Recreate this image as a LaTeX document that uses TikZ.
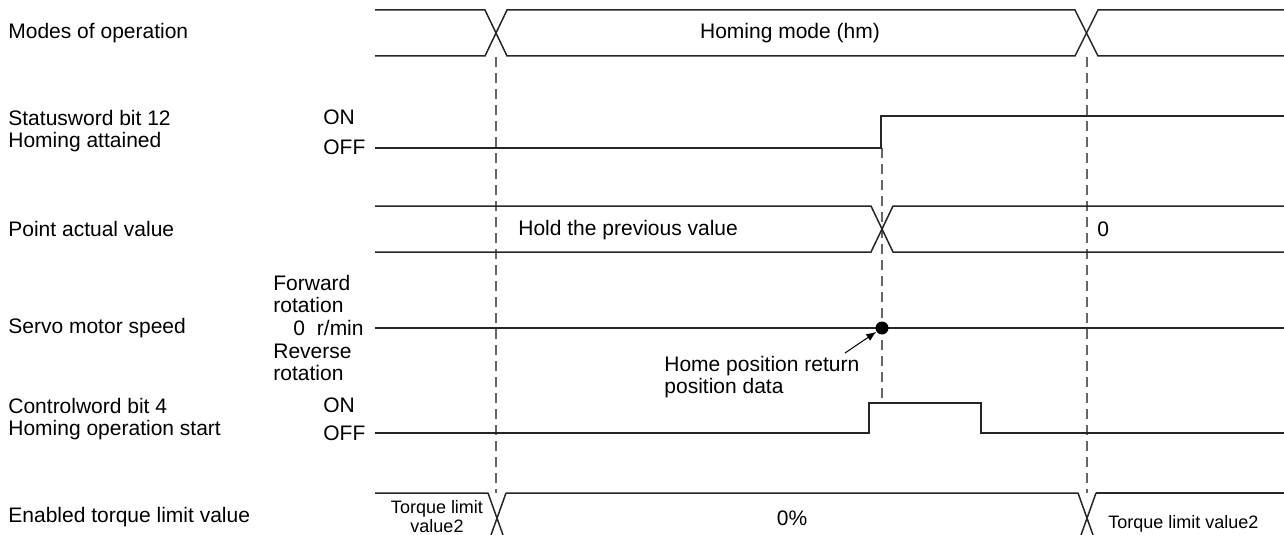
\documentclass[tikz,border=0pt]{standalone}
\usepackage{fontspec}
\setmainfont{Liberation Sans}
\usetikzlibrary{arrows.meta}
\tikzset{
  sig/.style={line width=0.75pt, draw=black!85},
  guide/.style={line width=0.6pt, draw=black!60, dash pattern=on 5pt off 3pt},
  lbl/.style={inner sep=0pt, anchor=west, align=left, font=\fontsize{10.5}{11}\selectfont},
  mid/.style={inner sep=0pt, anchor=center, align=center, font=\fontsize{10.5}{11}\selectfont},
  small/.style={inner sep=0pt, align=center, font=\fontsize{9}{9.5}\selectfont},
  pointer/.style={line width=0.5pt, -{Latex[length=5pt,width=4pt]}}
}
\begin{document}
\begin{tikzpicture}[x=0.5pt,y=-0.5pt]
\useasboundingbox (0,0) rectangle (1284,535);
\clip (0,0) rectangle (1284,535);
% guides
\draw[guide] (496,57)--(496,493);
\draw[guide] (1087,57)--(1087,493);
\draw[guide] (882,148)--(882,403);
% left labels
\node[lbl] (mo) at (8,33) {Modes of operation};
\node[lbl] (sw) at (8,131) {Statusword bit 12\\Homing attained};
\node[lbl] (pa) at (8,229) {Point actual value};
\node[lbl] (sm) at (8,328) {Servo motor speed};
\node[lbl] (cw) at (8,419) {Controlword bit 4\\Homing operation start};
\node[lbl] (tl) at (8,517) {Enabled torque limit value};
% level labels
\node[lbl] (swon) at (323,117) {ON};
\node[lbl] (swoff) at (323,147) {OFF};
\node[lbl] (fwd) at (273,294) {Forward\\rotation};
\node[lbl, anchor=east] (zero) at (364,328) {0\hspace{3pt} r/min};
\node[lbl] (rev) at (273,362) {Reverse\\rotation};
\node[lbl] (cwon) at (323,405) {ON};
\node[lbl] (cwoff) at (323,433) {OFF};
% row 1 : modes of operation
\draw[sig] (375,10)--(485,10)--(507,56)--(1075,56)--(1098,10)--(1284,10);
\draw[sig] (375,56)--(485,56)--(507,10)--(1075,10)--(1098,56)--(1284,56);
\node[mid] (hm) at (790,33) {Homing mode (hm)};
% row 2 : statusword
\draw[sig] (375,148)--(881,148)--(881,116)--(1284,116);
% row 3 : point actual value
\draw[sig] (375,206)--(871,206)--(893,252)--(1284,252);
\draw[sig] (375,252)--(871,252)--(893,206)--(1284,206);
\node[lbl] (hold) at (518,230) {Hold the previous value};
\node[lbl] (pz) at (1097,229) {0};
% row 4 : servo motor speed
\draw[sig] (375,328)--(1284,328);
\node[circle, fill=black, inner sep=0pt, minimum size=6.5pt] (dot) at (882,328) {};
\node[lbl] (hp) at (664,377) {Home position return\\position data};
\coordinate (tail) at (845,353);
\draw[pointer] (tail) -- (dot);
% row 5 : controlword
\draw[sig] (375,433)--(869,433)--(869,403)--(981,403)--(981,433)--(1284,433);
% row 6 : torque limit
\draw[sig] (375,493)--(488,493)--(503,535);
\draw[sig] (506,493)--(491,535);
\draw[sig] (506,493)--(1078,493)--(1093,535);
\draw[sig] (1096,493)--(1081,535);
\draw[sig] (1096,493)--(1284,493);
\node[small] (tl1) at (437,517) {Torque limit\\value2};
\node[mid] (tl2) at (792,518) {0\%};
\node[small, anchor=west] (tl3) at (1108,524) {Torque limit value2};
\end{tikzpicture}
\end{document}
